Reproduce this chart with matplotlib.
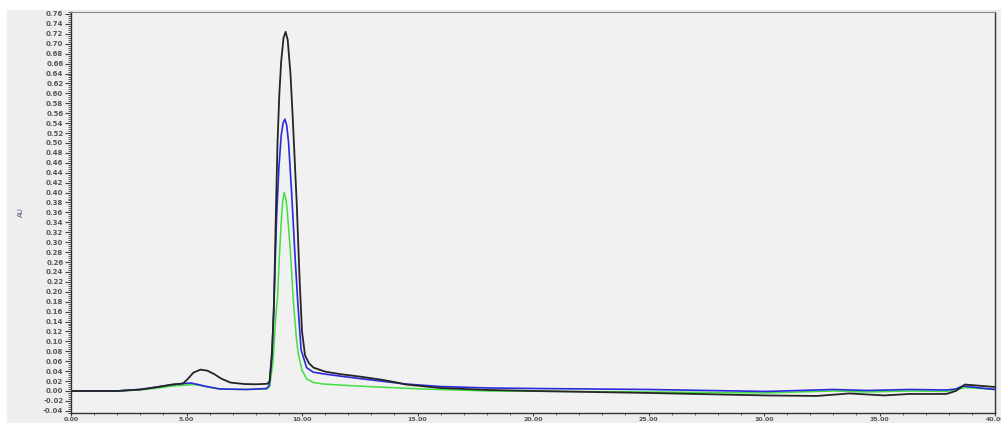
"""
Chromatogram overlay: three injections, absorbance vs retention time.
"""

import matplotlib.pyplot as plt
from matplotlib.patches import Rectangle
from matplotlib.ticker import MultipleLocator, FormatStrFormatter

# retention time (min) and absorbance (AU) for each trace
time_black = [0.0, 1.0, 2.0, 3.0, 3.6, 4.4, 4.85, 5.05, 5.3, 5.6, 5.9, 6.2, 6.5,
              6.9, 7.5, 8.0, 8.5, 8.6, 8.7, 8.78, 8.87, 8.94, 9.02, 9.1, 9.2,
              9.29, 9.38, 9.5, 9.6, 9.77, 9.9, 10.0, 10.13, 10.3, 10.5, 11.0,
              11.65, 12.5, 13.4, 14.0, 14.5, 16.0, 18.1, 20.0, 25.0, 30.1, 32.3,
              33.7, 35.2, 36.3, 37.9, 38.3, 38.7, 40.0]
abs_black = [0.0, 0.0, 0.0, 0.003, 0.007, 0.013, 0.015, 0.024, 0.037, 0.043,
             0.041, 0.034, 0.025, 0.017, 0.014, 0.0135, 0.0145, 0.02, 0.08,
             0.16, 0.36, 0.50, 0.60, 0.665, 0.712, 0.724, 0.708, 0.64, 0.55,
             0.38, 0.22, 0.12, 0.072, 0.056, 0.047, 0.039, 0.034, 0.029, 0.023,
             0.018, 0.013, 0.006, 0.002, 0.0, -0.004, -0.009, -0.010, -0.005,
             -0.009, -0.006, -0.006, 0.0, 0.013, 0.008]

time_blue = [0.0, 1.0, 2.0, 3.0, 3.6, 4.4, 4.85, 5.2, 5.5, 5.87, 6.45, 7.6, 8.47,
             8.58, 8.7, 8.8, 8.9, 9.0, 9.1, 9.18, 9.26, 9.34, 9.42, 9.55, 9.7,
             9.81, 9.96, 10.2, 10.48, 11.0, 11.65, 12.5, 13.4, 14.5, 16.0, 18.1,
             20.0, 25.0, 30.1, 33.0, 34.45, 36.3, 37.9, 38.3, 38.6, 40.0]
abs_blue = [0.0, 0.0, 0.0, 0.003, 0.007, 0.013, 0.015, 0.016, 0.013, 0.009,
            0.004, 0.003, 0.005, 0.011, 0.07, 0.2, 0.35, 0.45, 0.515, 0.54, 0.548,
            0.535, 0.50, 0.40, 0.27, 0.184, 0.083, 0.047, 0.038, 0.034, 0.030,
            0.025, 0.020, 0.014, 0.009, 0.006, 0.005, 0.003, -0.001, 0.003,
            0.001, 0.003, 0.002, 0.004, 0.010, 0.003]

time_green = [0.0, 1.0, 2.0, 3.0, 3.6, 4.4, 5.0, 5.29, 5.6, 5.9, 6.45, 7.6, 8.47,
              8.6, 8.75, 8.85, 8.94, 9.02, 9.1, 9.17, 9.23, 9.29, 9.35, 9.5,
              9.62, 9.75, 9.84, 10.0, 10.2, 10.5, 10.92, 12.37, 15.2, 18.1, 25.0,
              30.1, 33.0, 34.45, 36.3, 37.9, 38.3, 38.7, 40.0]
abs_green = [0.0, 0.0, 0.0, 0.002, 0.005, 0.010, 0.012, 0.013, 0.011, 0.008,
             0.004, 0.003, 0.004, 0.009, 0.06, 0.14, 0.19, 0.27, 0.34, 0.385,
             0.400, 0.39, 0.37, 0.28, 0.184, 0.11, 0.075, 0.042, 0.024, 0.017,
             0.014, 0.010, 0.004, 0.0, -0.002, -0.004, 0.0, -0.002, 0.0, -0.001,
             0.002, 0.007, 0.003]

fig = plt.figure(figsize=(10.01, 4.23), dpi=100, facecolor="white")
fig.patches.append(Rectangle((7 / 1001, 0), 1, 1 - 10 / 423,
                             transform=fig.transFigure, color="#eeeeee",
                             zorder=-1))

ax = fig.add_axes([71 / 1001, 1 - 413 / 423, 924 / 1001, 401 / 423])
ax.set_facecolor("#f1f1f1")

ax.plot(time_green, abs_green, color="#3fe03f", lw=1.1)
ax.plot(time_blue, abs_blue, color="#2a2adc", lw=1.2)
ax.plot(time_black, abs_black, color="#262626", lw=1.3)

ax.set_xlim(0, 40)
ax.set_ylim(-0.0444, 0.764)

ax.xaxis.set_major_locator(MultipleLocator(5))
ax.xaxis.set_minor_locator(MultipleLocator(1))
ax.xaxis.set_major_formatter(FormatStrFormatter("%.2f"))
ax.yaxis.set_major_locator(MultipleLocator(0.02))
ax.yaxis.set_minor_locator(MultipleLocator(0.004))
ax.yaxis.set_major_formatter(FormatStrFormatter("%.2f"))

ax.tick_params(which="major", length=4, width=0.8, color="#444444",
               labelsize=5, labelcolor="#555555", pad=1.5)
ax.tick_params(which="minor", length=2, width=0.6, color="#444444")
ax.tick_params(axis="x", which="major", length=2.5, labelsize=4.5, pad=0.3)
ax.tick_params(axis="x", which="minor", length=1.5)
for lbl in ax.get_xticklabels() + ax.get_yticklabels():
    lbl.set_fontweight("bold")

ax.set_ylabel("AU", fontsize=5, color="#445577", labelpad=14)

for side in ["left", "bottom", "right"]:
    ax.spines[side].set_color("#333333")
    ax.spines[side].set_linewidth(1.0)
ax.spines["top"].set_color("#888888")
ax.spines["top"].set_linewidth(0.8)

fig.savefig("out.png", dpi=100, facecolor=fig.get_facecolor())
